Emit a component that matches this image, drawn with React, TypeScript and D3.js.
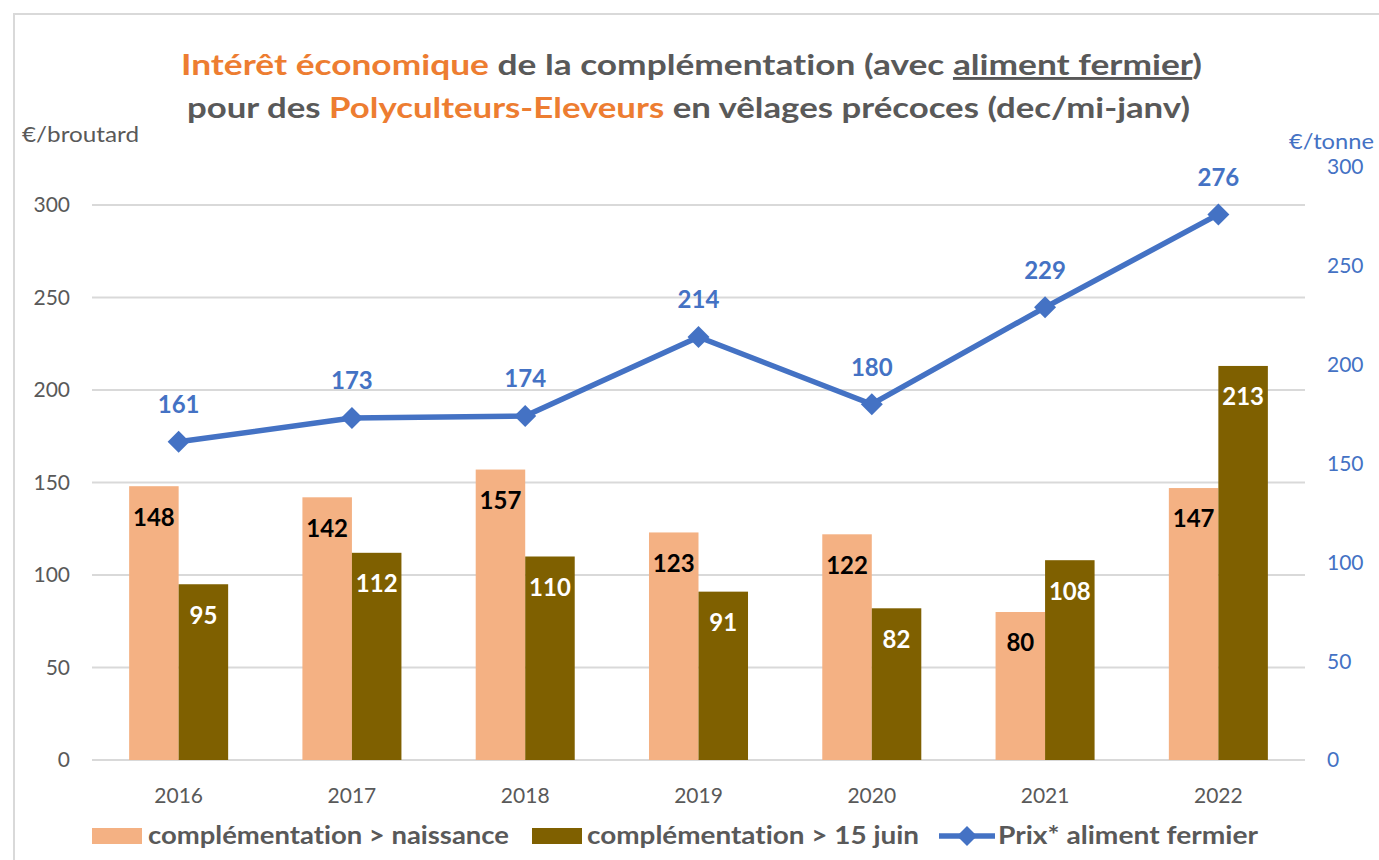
import React, { useEffect } from 'react';
import * as d3 from 'd3';

// values
const years = ['2016', '2017', '2018', '2019', '2020', '2021', '2022'];
const naissance = [148, 142, 157, 123, 122, 80, 147];
const juin = [95, 112, 110, 91, 82, 108, 213];
const prixAliment = [161, 173, 174, 214, 180, 229, 276];
const leftTicks = [0, 50, 100, 150, 200, 250, 300];
const rightTicks = [0, 50, 100, 150, 200, 250, 300];

const W = 1379;
const H = 860;
const FONT = 'Lato, "Open Sans", sans-serif';
const GRAY = '#595959';
const ORANGE = '#ED7D31';
const BLUE = '#4472C4';
const LIGHT = '#F4B183';
const DARK = '#7F6000';

const App = () => {
  useEffect(() => {
    document.body.style.margin = '0';
  }, []);

  const x = d3.scaleBand().domain(years).range([92, 1305]).padding(0);
  const x1 = d3.scaleBand().domain(['n', 'j']).range([0, x.bandwidth()]).paddingInner(0).paddingOuter(0.75);
  const yL = d3.scaleLinear().domain([0, 300]).range([760, 205]);
  const yR = d3.scaleLinear().domain([0, 300]).range([760, 167]);
  const cx = (y) => x(y) + x.bandwidth() / 2;

  const line = d3.line().x((d, i) => cx(years[i])).y((d) => yR(d));
  const diamond = (px, py, r) => `M${px},${py - r}L${px + r},${py}L${px},${py + r}L${px - r},${py}Z`;

  return (
    <svg width={W} height={H} style={{ display: 'block', background: '#fff', fontVariantLigatures: 'none' }} fontFamily={FONT}>
      <rect x={14} y={14} width={W} height={H} fill="#fff" stroke="#D9D9D9" strokeWidth={2} />

      {/* title */}
      <text x={181} y={75} fontSize={29} fontWeight="bold" fill={GRAY} textLength={1021} lengthAdjust="spacingAndGlyphs">
        <tspan fill={ORANGE}>Intérêt économique</tspan>
        <tspan> de la complémentation (avec </tspan>
        <tspan style={{ textDecoration: 'underline' }}>aliment fermier</tspan>
        <tspan>)</tspan>
      </text>
      <text x={187} y={118} fontSize={29} fontWeight="bold" fill={GRAY} textLength={1003} lengthAdjust="spacingAndGlyphs">
        <tspan>pour des </tspan>
        <tspan fill={ORANGE}>Polyculteurs-Eleveurs</tspan>
        <tspan> en vêlages précoces (dec/mi-janv)</tspan>
      </text>

      {/* axis titles */}
      <text x={22} y={142} fontSize={21} fill={GRAY} textLength={117} lengthAdjust="spacingAndGlyphs">€/broutard</text>
      <text x={1289} y={149} fontSize={21} fill={BLUE} textLength={85} lengthAdjust="spacingAndGlyphs">€/tonne</text>

      {/* gridlines + left ticks */}
      {leftTicks.map((t) => (
        <g key={'l' + t}>
          <line x1={92} x2={1305} y1={yL(t)} y2={yL(t)} stroke="#D9D9D9" strokeWidth={2} />
          <text x={70} y={yL(t)} dy="0.35em" textAnchor="end" fontSize={21} fill={GRAY}>{t}</text>
        </g>
      ))}
      {rightTicks.map((t) => (
        <text key={'r' + t} x={1327} y={yR(t)} dy="0.35em" fontSize={21} fill={BLUE}>{t}</text>
      ))}

      {/* bars */}
      {years.map((yr, i) => (
        <g key={yr}>
          <rect x={x(yr) + x1('n')} y={yL(naissance[i])} width={x1.bandwidth()} height={yL(0) - yL(naissance[i])} fill={LIGHT} />
          <rect x={x(yr) + x1('j')} y={yL(juin[i])} width={x1.bandwidth()} height={yL(0) - yL(juin[i])} fill={DARK} />
          <text x={x(yr) + x1('n') + x1.bandwidth() / 2} y={yL(naissance[i]) + 31} dy="0.35em" textAnchor="middle" fontSize={24} fontWeight="bold" fill="#000">{naissance[i]}</text>
          <text x={x(yr) + x1('j') + x1.bandwidth() / 2} y={yL(juin[i]) + 31} dy="0.35em" textAnchor="middle" fontSize={24} fontWeight="bold" fill="#fff">{juin[i]}</text>
          <text x={cx(yr)} y={796} dy="0.35em" textAnchor="middle" fontSize={21} fill={GRAY}>{yr}</text>
        </g>
      ))}

      {/* line */}
      <path d={line(prixAliment)} fill="none" stroke={BLUE} strokeWidth={5.5} strokeLinejoin="round" />
      {prixAliment.map((v, i) => (
        <g key={'p' + i}>
          <path d={diamond(cx(years[i]), yR(v), 11)} fill={BLUE} />
          <text x={cx(years[i])} y={yR(v) - 37} dy="0.35em" textAnchor="middle" fontSize={24} fontWeight="bold" fill={BLUE}>{v}</text>
        </g>
      ))}

      {/* legend */}
      <rect x={92} y={828} width={50} height={16} fill={LIGHT} />
      <text x={148} y={835} dy="0.35em" fontSize={25} fontWeight="bold" fill={GRAY} textLength={361} lengthAdjust="spacingAndGlyphs">complémentation &gt; naissance</text>
      <rect x={532} y={828} width={50} height={16} fill={DARK} />
      <text x={587} y={835} dy="0.35em" fontSize={25} fontWeight="bold" fill={GRAY} textLength={332} lengthAdjust="spacingAndGlyphs">complémentation &gt; 15 juin</text>
      <line x1={939} x2={995} y1={836} y2={836} stroke={BLUE} strokeWidth={5.5} />
      <path d={diamond(967, 836, 10)} fill={BLUE} />
      <text x={998} y={835} dy="0.35em" fontSize={25} fontWeight="bold" fill={GRAY} textLength={260} lengthAdjust="spacingAndGlyphs">Prix* aliment fermier</text>
    </svg>
  );
};

export default App;
